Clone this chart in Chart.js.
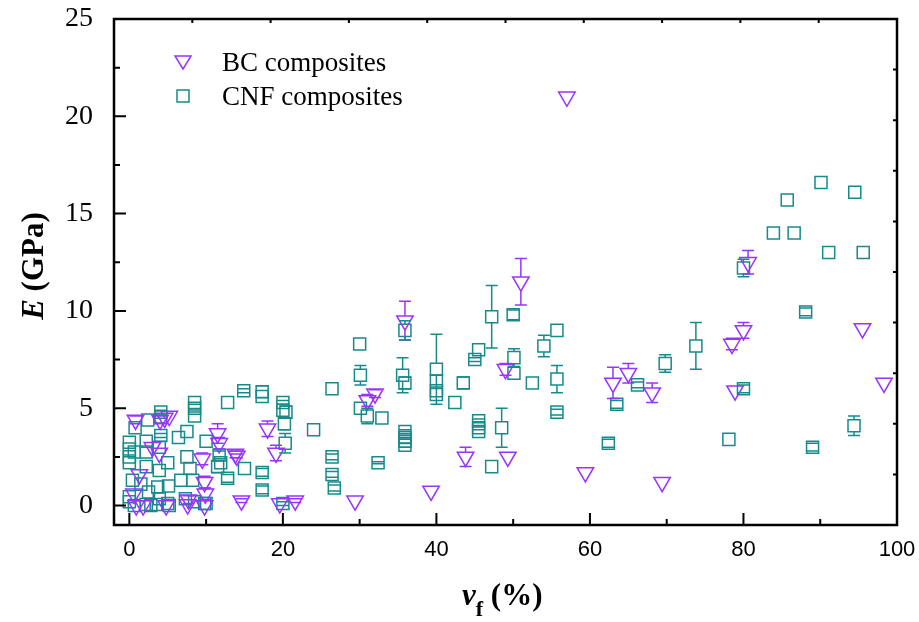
<!DOCTYPE html>
<html>
<head>
<meta charset="utf-8">
<script src="https://cdn.jsdelivr.net/npm/chart.js@4.4.1/dist/chart.umd.min.js"></script>
<style>
  html, body { margin: 0; padding: 0; background: #fff; }
</style>
</head>
<body>
<canvas id="chart" width="919" height="622"></canvas>
<script>
// data
const bcX = [57.0, 51.0, 35.9, 80.6, 80.0, 78.5, 78.9, 95.5, 98.3, 68.1, 65.0, 63.0, 59.4, 69.4,
  49.0, 49.3, 43.8, 39.3, 31.0, 32.0, 29.4, 21.6, 19.6, 18.0, 19.1, 14.6, 13.8, 14.0, 11.5, 11.7,
  9.5, 9.8, 9.9, 9.8, 7.6, 7.7, 0.8, 4.0, 4.6, 5.2, 3.9, 1.3, 0.9, 1.8, 4.8, 0.6, 3.0];
const bcY = [21.0, 11.5, 9.5, 12.5, 9.0, 8.3, 5.9, 9.1, 6.3, 5.8, 6.8, 6.3, 1.7, 1.2,
  7.0, 2.5, 2.5, 0.75, 5.4, 5.75, 0.25, 0.25, 0.1, 3.95, 2.7, 0.25, 2.65, 2.55, 3.7, 3.2,
  2.4, 1.2, 0.6, 0.0, 0.05, 0.3, 4.4, 4.4, 4.5, 4.6, 2.7, 1.6, 0.0, 0.0, 0.0, 0.6, 3.0];
const bcErr = [0, 1.2, 1.0, 0.6, 0.4, 0.3, 0, 0, 0, 0.5, 0.5, 0.8, 0, 0,
  0.3, 0, 0.5, 0, 0.3, 0.2, 0, 0.1, 0, 0.4, 0.4, 0.1, 0.2, 0.1, 0.5, 0.3,
  0.3, 0.3, 0.3, 0, 0, 0.2, 0.2, 0.2, 0, 0, 0, 0, 0, 0, 0, 0, 0];

const cnfX = [90.1, 85.7, 94.5, 83.9, 86.6, 91.1, 95.6, 80.0, 88.1, 80.0, 78.1, 89.0, 94.4,
  73.8, 69.8, 66.2, 63.5, 62.4, 55.7, 55.7, 55.7, 47.2, 50.0, 45.5, 45.0, 54.0, 50.1, 50.1,
  52.5, 43.5, 42.4, 40.0, 40.0, 40.0, 40.0, 45.5, 45.5, 45.5, 48.5, 47.2,
  30.0, 30.1, 26.4, 30.1, 31.0, 32.9, 24.0, 26.4, 26.4, 26.7, 32.4,
  35.9, 35.6, 35.9, 35.9, 35.9, 35.9, 35.9,
  20.0, 20.0, 20.4, 20.2, 20.3, 14.9, 17.3, 17.3, 12.8, 15.0, 17.3, 17.3, 20.0,
  12.8, 11.5, 10.0, 11.7, 11.9, 8.5, 8.5, 8.5, 9.8, 8.5, 8.25, 7.5, 6.4, 7.5, 7.9, 7.3, 10.0,
  6.7, 5.1, 5.0, 4.1, 4.1, 2.4, 0.75, 4.1, 3.9, 2.2, 2.2, 0.65, 0.0, 0.0, 0.0, 0.0,
  2.2, 3.9, 3.7, 1.5, 0.4, 0.0, 0.0, 0.65, 2.2, 2.8, 3.5, 3.9, 5.2, 5.0, 2.5];
const cnfY = [16.6, 15.7, 16.1, 14.0, 14.0, 13.0, 13.0, 12.2, 9.95, 6.0, 3.4, 3.0, 4.1,
  8.2, 7.3, 6.2, 5.2, 3.2, 9.0, 6.5, 4.8, 9.7, 9.8, 8.0, 7.5, 8.2, 7.6, 6.8,
  6.3, 6.3, 5.3, 7.0, 6.4, 5.9, 5.7, 4.35, 4.0, 3.8, 4.0, 2.0,
  8.3, 6.7, 6.0, 5.0, 4.6, 4.5, 3.9, 2.5, 1.6, 0.9, 2.2,
  9.0, 6.7, 6.3, 3.8, 3.5, 3.3, 3.1,
  5.3, 4.9, 4.8, 4.2, 3.2, 5.9, 5.85, 5.6, 5.3, 1.9, 1.7, 0.8, 0.1,
  1.4, 2.0, 3.3, 2.6, 2.2, 5.3, 5.0, 4.6, 0.1, 0.2, 1.3, 3.8, 3.5, 2.5, 1.9, 0.35, 0.1,
  1.3, 1.0, 2.2, 4.8, 4.55, 4.4, 4.0, 3.6, 3.0, 3.3, 2.75, 2.75, 3.25, 2.9, 2.5, 2.2,
  2.0, 1.8, 0.95, 1.1, 1.3, 0.45, 0.2, 0.0, 0.05, 0.0, 0.05, 0.35, 0.0, 0.1, 0.7];
const cnfErr = [0, 0, 0, 0, 0, 0, 0, 0.45, 0.2, 0.2, 0, 0.2, 0.5,
  1.2, 0.45, 0.15, 0.2, 0.2, 0, 0.7, 0.15, 1.6, 0.25, 0, 0.1, 0.55, 0.45, 0,
  0, 0.3, 0, 1.8, 0, 0, 0, 0.1, 0.1, 0, 1.0, 0,
  0, 0.5, 0, 0, 0.4, 0, 0, 0.15, 0.15, 0.15, 0.05,
  0.5, 0.9, 0.3, 0.1, 0.1, 0.1, 0.1,
  0.1, 0, 0.3, 0.3, 0.5, 0.1, 0.3, 0, 0, 0, 0.2, 0.2, 0.1,
  0.2, 0.3, 0, 0.2, 0, 0, 0.2, 0, 0, 0, 0, 0, 0, 0, 0, 0, 0,
  0, 0, 0, 0.1, 0, 0, 0, 0.1, 0, 0, 0, 0, 0, 0, 0, 0,
  0, 0, 0, 0, 0, 0, 0, 0, 0, 0, 0, 0, 0, 0, 0];

const xTicks = [0, 20, 40, 60, 80, 100];
const yTicks = [0, 5, 10, 15, 20, 25];
const seriesNames = ['BC composites', 'CNF composites'];

const purple = '#9933ff';
const teal = '#178a8a';
const errArrays = [bcErr, cnfErr];

// frame, inward ticks, error bars, legend and axis titles
const decorPlugin = {
  id: 'decor',
  afterDatasetsDraw(chart) {
    const ctx = chart.ctx;
    const xs = chart.scales.x, ys = chart.scales.y;
    const area = chart.chartArea;

    // error bars
    chart.data.datasets.forEach((ds, di) => {
      const meta = chart.getDatasetMeta(di);
      const errs = errArrays[di];
      const tri = di === 0;
      ctx.save();
      ctx.strokeStyle = ds.borderColor;
      ctx.lineWidth = 1.5;
      meta.data.forEach((pt, i) => {
        const e = errs[i];
        if (!e) return;
        const v = ds.data[i].y;
        const px = pt.x, py = pt.y;
        const top = ys.getPixelForValue(v + e);
        const bot = ys.getPixelForValue(v - e);
        const hTop = tri ? 5 : 6, hBot = tri ? 9.5 : 6;
        ctx.beginPath();
        if (top < py - hTop) { ctx.moveTo(px, top); ctx.lineTo(px, py - hTop); }
        if (bot > py + hBot) { ctx.moveTo(px, py + hBot); ctx.lineTo(px, bot); }
        ctx.moveTo(px - 6, top); ctx.lineTo(px + 6, top);
        ctx.moveTo(px - 6, bot); ctx.lineTo(px + 6, bot);
        ctx.stroke();
      });
      ctx.restore();
    });

    ctx.save();
    ctx.strokeStyle = '#000';
    // ticks
    ctx.lineWidth = 2;
    ctx.beginPath();
    for (let v = 0; v <= 100; v += 10) {
      const x = xs.getPixelForValue(v);
      const len = v % 20 === 0 ? 12 : 6;
      ctx.moveTo(x, area.bottom); ctx.lineTo(x, area.bottom - len);
    }
    for (let v = 0; v <= 25; v += 2.5) {
      const y = ys.getPixelForValue(v);
      const len = v % 5 === 0 ? 12 : 6;
      ctx.moveTo(area.left, y); ctx.lineTo(area.left + len, y);
    }
    for (let k = 1; k < 10; k++) {
      const x = area.left + (area.right - area.left) * k / 10;
      ctx.moveTo(x, area.top); ctx.lineTo(x, area.top + 4);
      const y = area.top + (area.bottom - area.top) * k / 10;
      ctx.moveTo(area.right, y); ctx.lineTo(area.right - 4, y);
    }
    ctx.stroke();
    // frame
    ctx.lineWidth = 2.5;
    ctx.strokeRect(area.left, area.top, area.right - area.left, area.bottom - area.top);
    ctx.restore();

    // legend
    ctx.save();
    ctx.lineWidth = 1.5;
    ctx.strokeStyle = purple;
    ctx.beginPath();
    ctx.moveTo(175, 56); ctx.lineTo(191, 56); ctx.lineTo(183, 69); ctx.closePath();
    ctx.stroke();
    ctx.strokeStyle = teal;
    ctx.strokeRect(177, 90, 12, 12);
    ctx.fillStyle = '#000';
    ctx.font = '27px "Liberation Serif"';
    ctx.textBaseline = 'alphabetic';
    ctx.fillText(seriesNames[0], 222, 71);
    ctx.fillText(seriesNames[1], 222, 105);
    ctx.restore();

    // y title
    ctx.save();
    ctx.fillStyle = '#000';
    ctx.translate(43, 266);
    ctx.rotate(-Math.PI / 2);
    ctx.textBaseline = 'alphabetic';
    ctx.font = 'italic bold 31px "Liberation Serif"';
    const wE = ctx.measureText('E').width;
    ctx.font = 'bold 31px "Liberation Serif"';
    const wRest = ctx.measureText(' (GPa)').width;
    let sx = -(wE + wRest) / 2;
    ctx.font = 'italic bold 31px "Liberation Serif"';
    ctx.fillText('E', sx, 0);
    ctx.font = 'bold 31px "Liberation Serif"';
    ctx.fillText(' (GPa)', sx + wE, 0);
    ctx.restore();

    // x title
    ctx.save();
    ctx.fillStyle = '#000';
    ctx.textBaseline = 'alphabetic';
    let tx = 462;
    ctx.font = 'italic bold 31px "Liberation Serif"';
    ctx.fillText('v', tx, 605);
    tx += ctx.measureText('v').width;
    ctx.font = 'bold 22px "Liberation Serif"';
    ctx.fillText('f', tx, 616);
    tx += ctx.measureText('f').width;
    ctx.font = 'bold 31px "Liberation Serif"';
    ctx.fillText(' (%)', tx, 605);
    ctx.restore();
  }
};

const ctx = document.getElementById('chart').getContext('2d');

const config = {
  type: 'scatter',
  data: {
    datasets: [
      {
        label: seriesNames[0],
        data: bcX.map((x, i) => ({ x: x, y: bcY[i] })),
        pointStyle: 'triangle',
        rotation: 180,
        pointRadius: 9.5,
        borderColor: purple,
        backgroundColor: 'rgba(0,0,0,0)',
        borderWidth: 1.5
      },
      {
        label: seriesNames[1],
        data: cnfX.map((x, i) => ({ x: x, y: cnfY[i] })),
        pointStyle: 'rect',
        pointRadius: 8.5,
        borderColor: teal,
        backgroundColor: 'rgba(0,0,0,0)',
        borderWidth: 1.5
      }
    ]
  },
  options: {
    responsive: false,
    animation: false,
    layout: { padding: { top: 19, right: 22, left: 0, bottom: 0 } },
    plugins: {
      legend: { display: false },
      tooltip: { enabled: false }
    },
    scales: {
      x: {
        type: 'linear',
        min: -2,
        max: 100,
        afterBuildTicks: s => { s.ticks = xTicks.map(v => ({ value: v })); },
        afterFit: s => { s.height = 97; s.paddingLeft = 0; s.paddingRight = 0; },
        grid: { display: false },
        border: { display: false },
        ticks: {
          padding: 4,
          color: '#000',
          font: { family: 'Liberation Sans', size: 22 }
        }
      },
      y: {
        type: 'linear',
        min: -1,
        max: 25,
        afterBuildTicks: s => { s.ticks = yTicks.map(v => ({ value: v })); },
        afterFit: s => { s.width = 114; s.paddingTop = 0; s.paddingBottom = 0; },
        grid: { display: false },
        border: { display: false },
        ticks: {
          padding: 13,
          color: '#000',
          font: { family: 'Liberation Serif', size: 28 }
        }
      }
    }
  },
  plugins: [decorPlugin]
};

const chart = new Chart(ctx, config);
</script>
</body>
</html>
